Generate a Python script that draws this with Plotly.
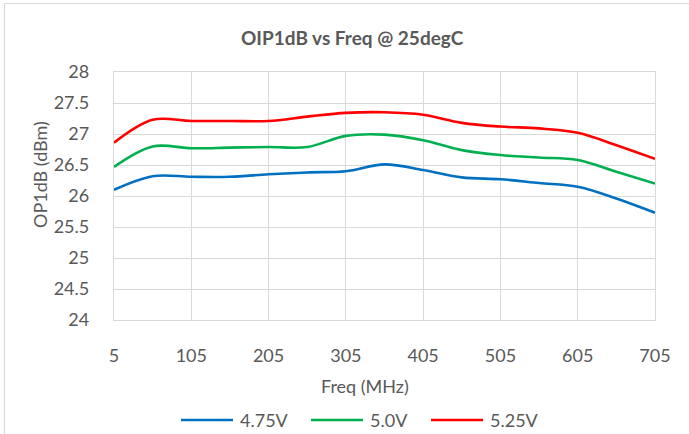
import plotly.graph_objects as go

# OIP1dB measured at 25 degC, one sample every 50 MHz
freq_mhz = [5, 55, 105, 155, 205, 255, 305, 355, 405, 455, 505, 555, 605, 655, 705]
op1db_475 = [26.10, 26.32, 26.31, 26.31, 26.35, 26.38, 26.40, 26.51, 26.42, 26.30, 26.27, 26.21, 26.15, 25.96, 25.73]
op1db_500 = [26.47, 26.80, 26.77, 26.78, 26.79, 26.79, 26.97, 26.99, 26.90, 26.74, 26.66, 26.62, 26.58, 26.39, 26.20]
op1db_525 = [26.86, 27.23, 27.21, 27.21, 27.21, 27.28, 27.34, 27.35, 27.31, 27.18, 27.12, 27.09, 27.02, 26.82, 26.60]

series_names = ["4.75V", "5.0V", "5.25V"]
series_colors = ["#0070C0", "#00B050", "#FF0000"]
series_values = [op1db_475, op1db_500, op1db_525]

x_ticks = [5, 105, 205, 305, 405, 505, 605, 705]

W, H = 689, 434
L, R, T, B = 114, 34, 72, 114
PW, PH = W - L - R, H - T - B
FONT = "Lato"
TXT = "#595959"
GRID = "#D9D9D9"


def px_x(px):
    return (px - L) / PW


def px_y(py):
    return (H - B - py) / PH


fig = go.Figure()
for name, color, vals in zip(series_names, series_colors, series_values):
    fig.add_trace(go.Scatter(
        x=freq_mhz, y=vals, name=name, mode="lines",
        line=dict(color=color, width=2.6, shape="spline", smoothing=1.0),
        showlegend=False,
    ))

shapes = [
    # chart area frame (left and top edges)
    dict(type="line", xref="paper", yref="paper", x0=px_x(4.5), x1=px_x(4.5),
         y0=px_y(3.5), y1=px_y(H), line=dict(color=GRID, width=1.2)),
    dict(type="line", xref="paper", yref="paper", x0=px_x(4.5), x1=px_x(W),
         y0=px_y(3.5), y1=px_y(3.5), line=dict(color=GRID, width=1.2)),
]
annotations = [
    dict(text="<b>OIP1dB vs Freq @ 25degC</b>", xref="paper", yref="paper",
         x=px_x(352), y=px_y(38), xanchor="center", yanchor="middle",
         showarrow=False, font=dict(family=FONT, size=19, color=TXT)),
    dict(text="Freq (MHz)", xref="paper", yref="paper",
         x=px_x(365), y=px_y(386), xanchor="center", yanchor="middle",
         showarrow=False, font=dict(family=FONT, size=18, color=TXT)),
    dict(text="OP1dB (dBm)", xref="paper", yref="paper", textangle=-90,
         x=px_x(40), y=px_y(175), xanchor="center", yanchor="middle",
         showarrow=False, font=dict(family=FONT, size=18, color=TXT)),
]

# legend keys along the bottom
legend_keys = [(181, 233, 238), (311, 363, 368), (431, 483, 488)]
for (lx0, lx1, tx), name, color in zip(legend_keys, series_names, series_colors):
    shapes.append(dict(type="line", xref="paper", yref="paper",
                       x0=px_x(lx0), x1=px_x(lx1), y0=px_y(420), y1=px_y(420),
                       line=dict(color=color, width=2.6)))
    annotations.append(dict(text=name, xref="paper", yref="paper",
                            x=px_x(tx), y=px_y(420), xanchor="left", yanchor="middle",
                            showarrow=False, font=dict(family=FONT, size=18, color=TXT)))

fig.update_layout(
    width=W, height=H, autosize=False,
    margin=dict(l=L, r=R, t=T, b=B, pad=0),
    paper_bgcolor="white", plot_bgcolor="white",
    font=dict(family=FONT, size=18, color=TXT),
    shapes=shapes, annotations=annotations,
    showlegend=False,
)
fig.update_xaxes(
    range=[5, 705], tickmode="array", tickvals=x_ticks, ticktext=[str(v) for v in x_ticks],
    showgrid=True, gridcolor=GRID, gridwidth=1.3, zeroline=False,
    showline=True, linecolor=GRID, linewidth=1.3, mirror=True,
    ticks="", ticklabelstandoff=19, tickfont=dict(family=FONT, size=18, color=TXT),
)
fig.update_yaxes(
    range=[24, 28], dtick=0.5, tick0=24,
    showgrid=True, gridcolor=GRID, gridwidth=1.3, zeroline=False,
    showline=True, linecolor=GRID, linewidth=1.3, mirror=True,
    ticks="", ticklabelstandoff=20, tickfont=dict(family=FONT, size=18, color=TXT),
)

fig.write_html("out.html")
